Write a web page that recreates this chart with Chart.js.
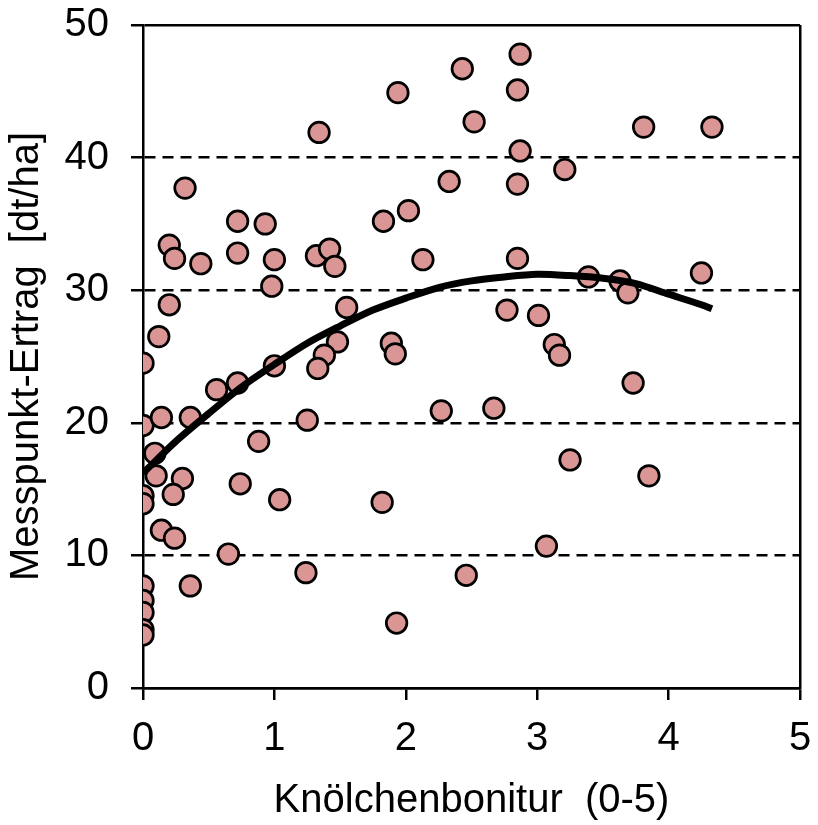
<!DOCTYPE html>
<html>
<head>
<meta charset="utf-8">
<script src="https://cdn.jsdelivr.net/npm/chart.js@4.4.1/dist/chart.umd.min.js"></script>
<style>
  html, body { margin: 0; padding: 0; background: #ffffff; }
  #wrap { width: 818px; height: 825px; }
</style>
</head>
<body>
<div id="wrap"><canvas id="c" width="818" height="825"></canvas></div>
<script>
// Knölchenbonitur (0-5)
const knollX = [
  1.94, 1.34, 2.43, 0.32, 2.33, 0.72, 0.93, 1.83, 2.02, 0.20,
  0.24, 0.44, 0.72, 1.00, 1.32, 1.42, 1.46, 2.13, 0.98, 0.20,
  1.55, 0.12, 1.48, 1.89, 1.92, 1.38, 0.00, 1.00, 1.33, 2.87,
  2.85, 2.52, 3.81, 4.33, 2.87, 3.21, 2.85, 2.85, 3.39, 3.63,
  3.69, 4.25, 2.77, 3.01, 3.13, 3.17, 0.56, 0.72, 0.00, 0.14,
  0.36, 1.25, 2.27, 0.09, 0.10, 0.88, 0.30, 0.23, 0.00, 0.00,
  0.74, 1.04, 1.82, 0.14, 0.24, 0.65, 1.24, 0.36, 0.00, 0.00,
  0.00, 0.00, 0.00, 1.93, 2.46, 3.73, 2.67, 3.25, 3.85, 3.07
];
// Messpunkt-Ertrag [dt/ha]
const yieldY = [
  44.9, 41.9, 46.7, 37.7, 38.2, 35.2, 35.0, 35.2, 36.0, 33.4,
  32.4, 32.0, 32.8, 32.3, 32.6, 33.1, 31.8, 32.3, 30.3, 28.9,
  28.7, 26.5, 26.1, 26.0, 25.2, 25.1, 24.5, 24.3, 24.1, 47.8,
  45.1, 42.7, 42.3, 42.3, 40.5, 39.1, 38.0, 32.4, 31.0, 30.7,
  29.8, 31.3, 28.5, 28.1, 25.9, 25.1, 22.5, 23.0, 19.8, 20.4,
  20.4, 20.2, 20.9, 17.7, 16.0, 18.6, 15.8, 14.6, 14.5, 13.9,
  15.4, 14.2, 14.0, 11.9, 11.3, 10.1, 8.7, 7.7, 7.7, 6.6,
  5.7, 4.4, 4.0, 4.9, 8.5, 23.0, 21.1, 17.2, 16.0, 10.7
];
// Trend curve
const trendX = [0, 0.25, 0.5, 0.75, 1.0, 1.25, 1.5, 1.75, 2.0, 2.25, 2.5, 2.75, 3.0, 3.25, 3.5, 3.75, 4.0, 4.25, 4.33];
const trendY = [16.2, 18.6, 20.7, 22.7, 24.4, 26.0, 27.3, 28.5, 29.4, 30.2, 30.7, 31.0, 31.2, 31.1, 30.9, 30.5, 29.7, 28.9, 28.6];

const xTicks = [0, 1, 2, 3, 4, 5];
const yTicks = [0, 10, 20, 30, 40, 50];

const xTitle = 'Knölchenbonitur  (0-5)';
const yTitle = 'Messpunkt-Ertrag  [dt/ha]';

const scatterData = knollX.map((x, i) => ({ x: x, y: yieldY[i] }));
const trendData = trendX.map((x, i) => ({ x: x, y: trendY[i] }));

const FONT = { family: '"Liberation Sans", Arial, Helvetica, sans-serif', size: 40 };

new Chart(document.getElementById('c'), {
  type: 'scatter',
  data: {
    datasets: [
      {
        type: 'line',
        data: trendData,
        borderColor: '#000000',
        borderWidth: 7,
        pointRadius: 0,
        fill: false,
        tension: 0.3,
        order: 0
      },
      {
        data: scatterData,
        backgroundColor: '#d99694',
        borderColor: '#000000',
        borderWidth: 2.7,
        pointRadius: 10.3,
        pointHoverRadius: 10.3,
        order: 1
      }
    ]
  },
  options: {
    responsive: false,
    animation: false,
    devicePixelRatio: 1,
    layout: { padding: { top: 25, right: 18, left: 0, bottom: 0 } },
    plugins: {
      legend: { display: false },
      tooltip: { enabled: false }
    },
    scales: {
      x: {
        type: 'linear',
        min: 0,
        max: 5,
        afterFit: (s) => { s.height = 137; s.paddingLeft = 0; s.paddingRight = 0; },
        afterBuildTicks: (s) => { s.ticks = xTicks.map(v => ({ value: v })); },
        ticks: { font: FONT, color: '#000', padding: 15, maxRotation: 0 },
        grid: {
          color: (ctx) => (ctx.tick && ctx.tick.value === 5) ? '#000' : 'rgba(0,0,0,0)',
          tickColor: '#000',
          tickLength: 12,
          lineWidth: 2.5,
          tickWidth: 2.5
        },
        border: { display: true, color: '#000', width: 2.5 },
        title: { display: true, text: xTitle, font: FONT, color: '#000', padding: { top: 0, bottom: 0 } }
      },
      y: {
        type: 'linear',
        min: 0,
        max: 50,
        afterFit: (s) => { s.width = 143; s.paddingTop = 0; s.paddingBottom = 0; },
        afterBuildTicks: (s) => { s.ticks = yTicks.map(v => ({ value: v })); },
        ticks: { font: FONT, color: '#000', padding: 22 },
        grid: {
          color: '#000',
          lineWidth: 2.5,
          tickLength: 12,
          tickWidth: 2.5,
          tickColor: '#000',
          tickBorderDash: []
        },
        border: {
          display: true,
          color: '#000',
          width: 2.5,
          dash: (ctx) => (ctx.tick && ctx.tick.value !== 0 && ctx.tick.value !== 50) ? [11, 7] : []
        },
        title: { display: true, text: yTitle, font: FONT, color: '#000', padding: { top: 3, bottom: 0 } }
      }
    }
  }
});
</script>
</body>
</html>
